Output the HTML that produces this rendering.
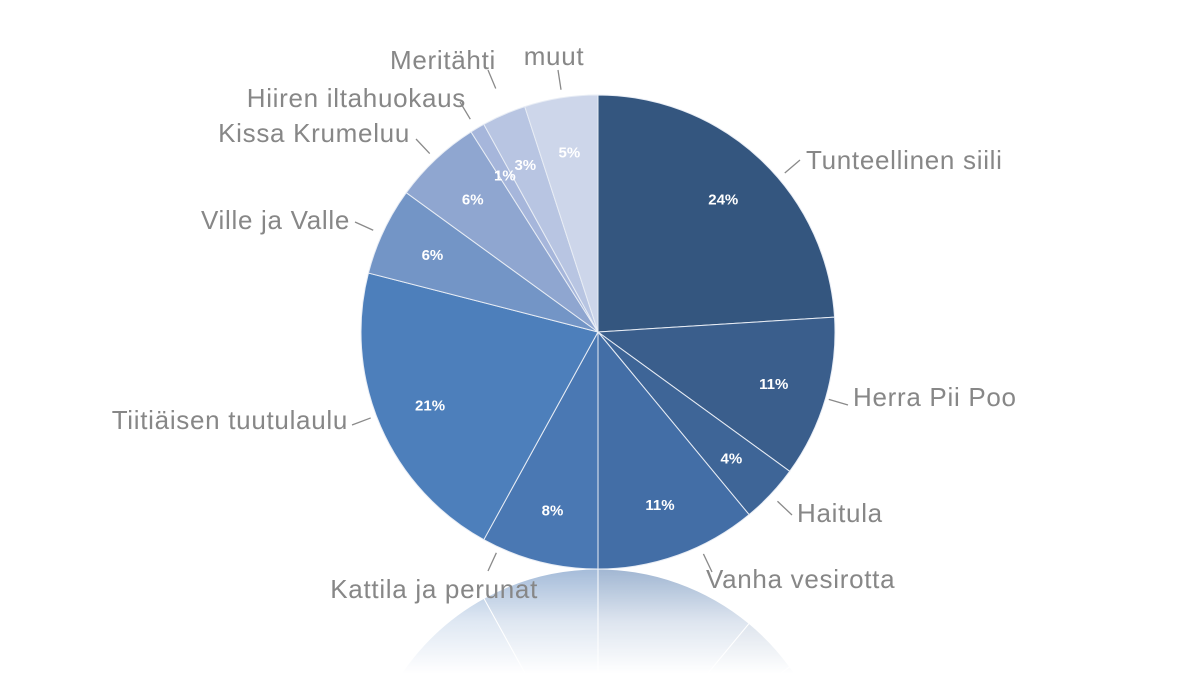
<!DOCTYPE html>
<html><head><meta charset="utf-8"><style>
html,body{margin:0;padding:0;background:#fff;overflow:hidden;width:1198px;height:674px;}
svg{display:block;font-family:"Liberation Sans",sans-serif;}
</style></head><body>
<svg id="chart" width="1198" height="674" viewBox="0 0 1198 674" xmlns="http://www.w3.org/2000/svg">
<defs>
<linearGradient id="fade" x1="0" y1="0" x2="0" y2="1">
<stop offset="0" stop-color="#fff" stop-opacity="0.5"/>
<stop offset="0.5" stop-color="#fff" stop-opacity="0.18"/>
<stop offset="1" stop-color="#fff" stop-opacity="0"/>
</linearGradient>
<mask id="m" maskUnits="userSpaceOnUse" x="0" y="569" width="1198" height="105">
<rect x="0" y="569" width="1198" height="105" fill="url(#fade)"/>
</mask>
</defs>
<g id="reflection" mask="url(#m)"></g>
<g id="slices"></g>
<g id="labels"></g>
</svg>
<script>
const categories = ["Tunteellinen siili","Herra Pii Poo","Haitula","Vanha vesirotta","Kattila ja perunat","Tiitiäisen tuutulaulu","Ville ja Valle","Kissa Krumeluu","Hiiren iltahuokaus","Meritähti","muut"];
const values = [24,11,4,11,8,21,6,6,1,3,5];
const valueLabels = ["24%","11%","4%","11%","8%","21%","6%","6%","1%","3%","5%"];
const colors = ["#34567f","#3a5e8c","#3e6597","#436ea6","#4a78b3","#4d7fbb","#7395c6","#8fa6d0","#a6b6db","#b8c5e2","#cdd6ea"];
// label layout: [x, y, anchor, leaderEndX, leaderEndY]
const labelPos = [[806,169,"start",800,160],[853,406,"start",848,405],[797,522,"start",792,515],[706,588,"start",712,572],[538,598,"end",488,571],[348,429,"end",352,425],[350,229,"end",355,222],[410,142,"end",416,139],[466,107,"end",460,102],[496,69,"end",488,70],[554,65,"middle",558,70]];
const NS="http://www.w3.org/2000/svg";
const cx=598, cy=332, R=237;
const total=values.reduce((a,b)=>a+b,0);
function pt(a,r){return [cx+r*Math.sin(a), cy-r*Math.cos(a)];}
function arc(a0,a1,r){const p0=pt(a0,r),p1=pt(a1,r);const large=(a1-a0)>Math.PI?1:0;
 return `M${cx},${cy} L${p0[0]},${p0[1]} A${r},${r} 0 ${large} 1 ${p1[0]},${p1[1]} Z`;}
const gS=document.getElementById('slices'), gL=document.getElementById('labels'), gR=document.getElementById('reflection');
let acc=0;
values.forEach((v,i)=>{
 const a0=acc/total*2*Math.PI; acc+=v; const a1=acc/total*2*Math.PI; const am=(a0+a1)/2;
 const p=document.createElementNS(NS,'path');
 p.setAttribute('d',arc(a0,a1,R)); p.setAttribute('fill',colors[i]); p.setAttribute('stroke','#e8edf5'); p.setAttribute('stroke-width','1');
 
 
 gS.appendChild(p);
 const q=document.createElementNS(NS,'path');
 q.setAttribute('d',arc(a0,a1,R)); q.setAttribute('fill',colors[i]); q.setAttribute('stroke','#fff'); q.setAttribute('stroke-width','1');
 q.setAttribute('transform',`translate(0,${2*(cy+R)}) scale(1,-1)`);
 
 
 gR.appendChild(q);
 const vp=pt(am,183);
 const t=document.createElementNS(NS,'text');
 t.setAttribute('x',vp[0]); t.setAttribute('y',vp[1]+6); t.setAttribute('text-anchor','middle');
 t.setAttribute('fill','#fff'); t.setAttribute('font-size','15'); t.setAttribute('font-weight','bold');
 t.textContent=valueLabels[i];
 
 
 gL.appendChild(t);
 const lp=labelPos[i];
 const ex=lp[3], ey=lp[4];
 const dx=ex-cx, dy=ey-cy, d=Math.hypot(dx,dy);
 const sx=ex-dx/d*20, sy=ey-dy/d*20;
 const ln=document.createElementNS(NS,'line');
 ln.setAttribute('x1',sx); ln.setAttribute('y1',sy); ln.setAttribute('x2',ex); ln.setAttribute('y2',ey);
 ln.setAttribute('stroke','#8a8a8a'); ln.setAttribute('stroke-width','1.3');
 
 
 gL.appendChild(ln);
 const c=document.createElementNS(NS,'text');
 c.setAttribute('x',lp[0]); c.setAttribute('y',lp[1]); c.setAttribute('text-anchor',lp[2]);
 c.setAttribute('fill','#878787'); c.setAttribute('font-size','26'); c.setAttribute('letter-spacing','0.7');
 c.textContent=categories[i];
 
 
 gL.appendChild(c);
});
</script>
</body></html>
